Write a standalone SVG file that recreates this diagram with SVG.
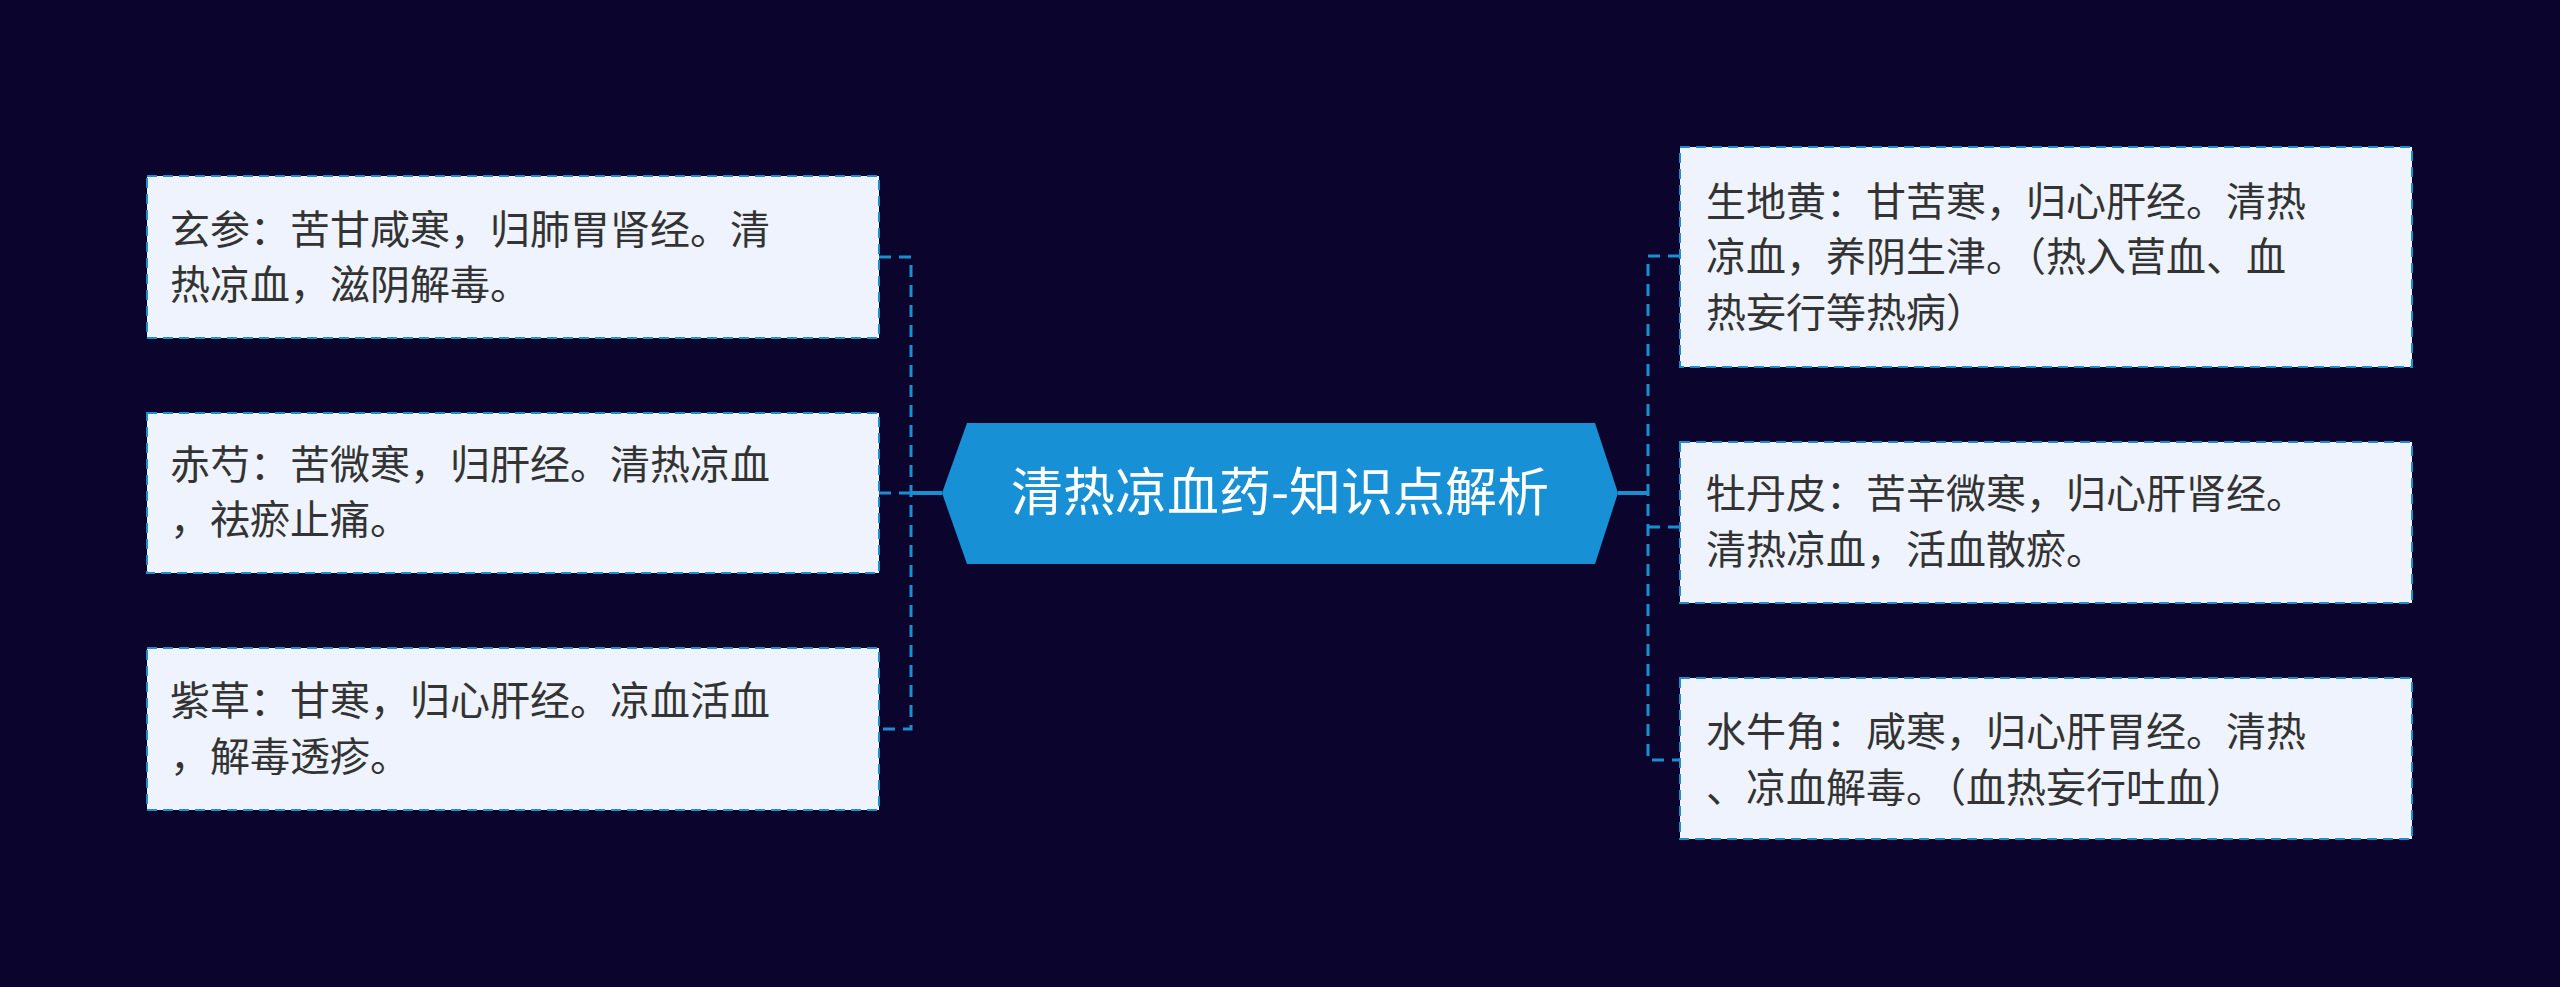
<svg xmlns="http://www.w3.org/2000/svg" width="2560" height="987" viewBox="0 0 2560 987">
<style>
.box{fill:#eef3fd;stroke:#1a8fd0;stroke-width:2;stroke-dasharray:10 6}
.t{font-family:"Noto Sans CJK SC",sans-serif;font-size:40px;fill:#333}
.c{fill:none;stroke:#1a8fd0;stroke-width:3;stroke-dasharray:12 8}
</style>
<rect width="2560" height="987" fill="#0b052e"/>
<g id="connectors">
<path class="c" d="M879 257H911V729H879M879 493H911"/>
<path d="M911 493H942M1618 493H1648" stroke="#1a8fd0" stroke-width="4"/>
<path class="c" d="M1680 256H1648V760H1680M1648 527H1680"/>
</g>
<g id="center">
<polygon points="942,493 967,423 1595,423 1618,493 1595,564 967,564" fill="#1890d5"/>
<text x="1280" y="511" text-anchor="middle" font-family="Noto Sans CJK SC,sans-serif" font-size="52" fill="#fff">清热凉血药-知识点解析</text>
</g>
<g id="n1"><rect class="box" x="147" y="176" width="732" height="162"/>
<text class="t" x="170" y="244">玄参：苦甘咸寒，归肺胃肾经。清</text><text class="t" x="170" y="299">热凉血，滋阴解毒。</text></g>
<g id="n2"><rect class="box" x="147" y="413" width="732" height="160"/>
<text class="t" x="170" y="479">赤芍：苦微寒，归肝经。清热凉血</text><text class="t" x="170" y="534">，祛瘀止痛。</text></g>
<g id="n3"><rect class="box" x="147" y="648" width="732" height="162"/>
<text class="t" x="170" y="715">紫草：甘寒，归心肝经。凉血活血</text><text class="t" x="170" y="771">，解毒透疹。</text></g>
<g id="n4"><rect class="box" x="1680" y="147" width="732" height="220"/>
<text class="t" x="1706" y="216">生地黄：甘苦寒，归心肝经。清热</text><text class="t" x="1706" y="271">凉血，养阴生津。（热入营血、血</text><text class="t" x="1706" y="327">热妄行等热病）</text></g>
<g id="n5"><rect class="box" x="1680" y="442" width="732" height="161"/>
<text class="t" x="1706" y="508">牡丹皮：苦辛微寒，归心肝肾经。</text><text class="t" x="1706" y="564">清热凉血，活血散瘀。</text></g>
<g id="n6"><rect class="box" x="1680" y="678" width="732" height="161"/>
<text class="t" x="1706" y="746">水牛角：咸寒，归心肝胃经。清热</text><text class="t" x="1706" y="802">、凉血解毒。（血热妄行吐血）</text></g>
</svg>
